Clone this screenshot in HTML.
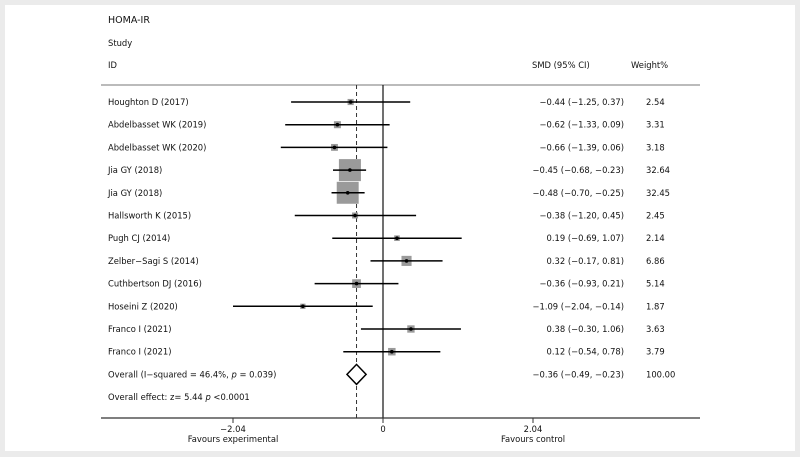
<!DOCTYPE html>
<html><head><meta charset="utf-8"><style>
html,body{margin:0;padding:0;background:#ebebeb;}
svg{display:block;font-family:"DejaVu Sans","Liberation Sans",sans-serif;}
text{font-size:8.4px;fill:#111;}
</style></head><body>
<svg id="chart" width="800" height="457" viewBox="0 0 800 457">
<rect x="5" y="5" width="790" height="446" fill="#fff"/>
<text x="108" y="23" style="font-size:9.5px">HOMA-IR</text>
<text x="108" y="46">Study</text>
<text x="108" y="68">ID</text>
<text x="532" y="68">SMD (95% CI)</text>
<text x="631" y="68">Weight%</text>
<line x1="101" y1="85" x2="700" y2="85" stroke="#777" stroke-width="1"/>
<g id="marks"></g>
</svg>
<script>
const studies=["Houghton D (2017)","Abdelbasset WK (2019)","Abdelbasset WK (2020)","Jia GY (2018)","Jia GY (2018)","Hallsworth K (2015)","Pugh CJ (2014)","Zelber\u2212Sagi S (2014)","Cuthbertson DJ (2016)","Hoseini Z (2020)","Franco I (2021)","Franco I (2021)"];
const smd=[-0.44,-0.62,-0.66,-0.45,-0.48,-0.38,0.19,0.32,-0.36,-1.09,0.38,0.12];
const lower=[-1.25,-1.33,-1.39,-0.68,-0.70,-1.20,-0.69,-0.17,-0.93,-2.04,-0.30,-0.54];
const upper=[0.37,0.09,0.06,-0.23,-0.25,0.45,1.07,0.81,0.21,-0.14,1.06,0.78];
const weights=[2.54,3.31,3.18,32.64,32.45,2.45,2.14,6.86,5.14,1.87,3.63,3.79];
const overall=[-0.36,-0.49,-0.23];
const ticks=[-2.04,0,2.04];
const NS="http://www.w3.org/2000/svg";
const g=document.getElementById('marks');
const x=v=>383+v*150/2.04;
const rowY=i=>102+i*22.7;
const fmt=v=>(v<0?"\u2212":"")+Math.abs(v).toFixed(2);
function mk(tag,attrs,parent){const e=document.createElementNS(NS,tag);for(const k in attrs)e.setAttribute(k,attrs[k]);(parent||g).appendChild(e);return e;}
const yTop=85,yAxis=418;
let e=mk('line',{x1:x(overall[0]),x2:x(overall[0]),y1:yTop,y2:yAxis,stroke:'#333','stroke-width':1,'stroke-dasharray':'4,3'});


e=mk('line',{x1:x(0),x2:x(0),y1:yTop,y2:yAxis,stroke:'#111','stroke-width':1.2});


studies.forEach((s,i)=>{
  const y=rowY(i);
  let t=mk('text',{x:108,y:y+3});t.textContent=s;
  
  
  const side=22*Math.sqrt(weights[i]/32.64);
  let b=mk('rect',{x:x(smd[i])-side/2,y:y-side/2,width:side,height:side,fill:'#9a9a9a'});
  
  
  let l=mk('line',{x1:x(lower[i]),x2:x(upper[i]),y1:y,y2:y,stroke:'#000','stroke-width':1.5});
  
  
  let d=mk('circle',{cx:x(smd[i]),cy:y,r:1.8,fill:'#000'});
  
  
  let v=mk('text',{x:624,y:y+3,'text-anchor':'end'});v.textContent=fmt(smd[i])+" ("+fmt(lower[i])+", "+fmt(upper[i])+")";
  
  
  let w=mk('text',{x:646,y:y+3});w.textContent=weights[i].toFixed(2);
  
  
});
const oy=rowY(12);
let ot=mk('text',{x:108,y:oy+3});ot.innerHTML='Overall  (I\u2212squared = 46.4%, <tspan font-style="italic">p</tspan> = 0.039)';


let dm=mk('polygon',{points:`${x(overall[1])},${oy} ${x(overall[0])},${oy-10} ${x(overall[2])},${oy} ${x(overall[0])},${oy+10}`,fill:'#fff',stroke:'#000','stroke-width':1.5});


let ov=mk('text',{x:624,y:oy+3,'text-anchor':'end'});ov.textContent=fmt(overall[0])+" ("+fmt(overall[1])+", "+fmt(overall[2])+")";


let ow=mk('text',{x:646,y:oy+3});ow.textContent="100.00";


let oe=mk('text',{x:108,y:rowY(13)+3});oe.innerHTML='Overall effect: z= 5.44 <tspan font-style="italic">p</tspan> &lt;0.0001';


let ax=mk('line',{x1:101,x2:700,y1:yAxis,y2:yAxis,stroke:'#333','stroke-width':1.2});


ticks.forEach(tv=>{
  let tk=mk('line',{x1:x(tv),x2:x(tv),y1:yAxis,y2:yAxis+5,stroke:'#333','stroke-width':1});
  
  
  let tl=mk('text',{x:x(tv),y:yAxis+14,'text-anchor':'middle'});tl.textContent=tv===0?"0":fmt(tv);
  
  
});
let fe=mk('text',{x:x(-2.04),y:yAxis+24,'text-anchor':'middle'});fe.textContent="Favours experimental";


let fc=mk('text',{x:x(2.04),y:yAxis+24,'text-anchor':'middle'});fc.textContent="Favours control";


</script>
</body></html>
